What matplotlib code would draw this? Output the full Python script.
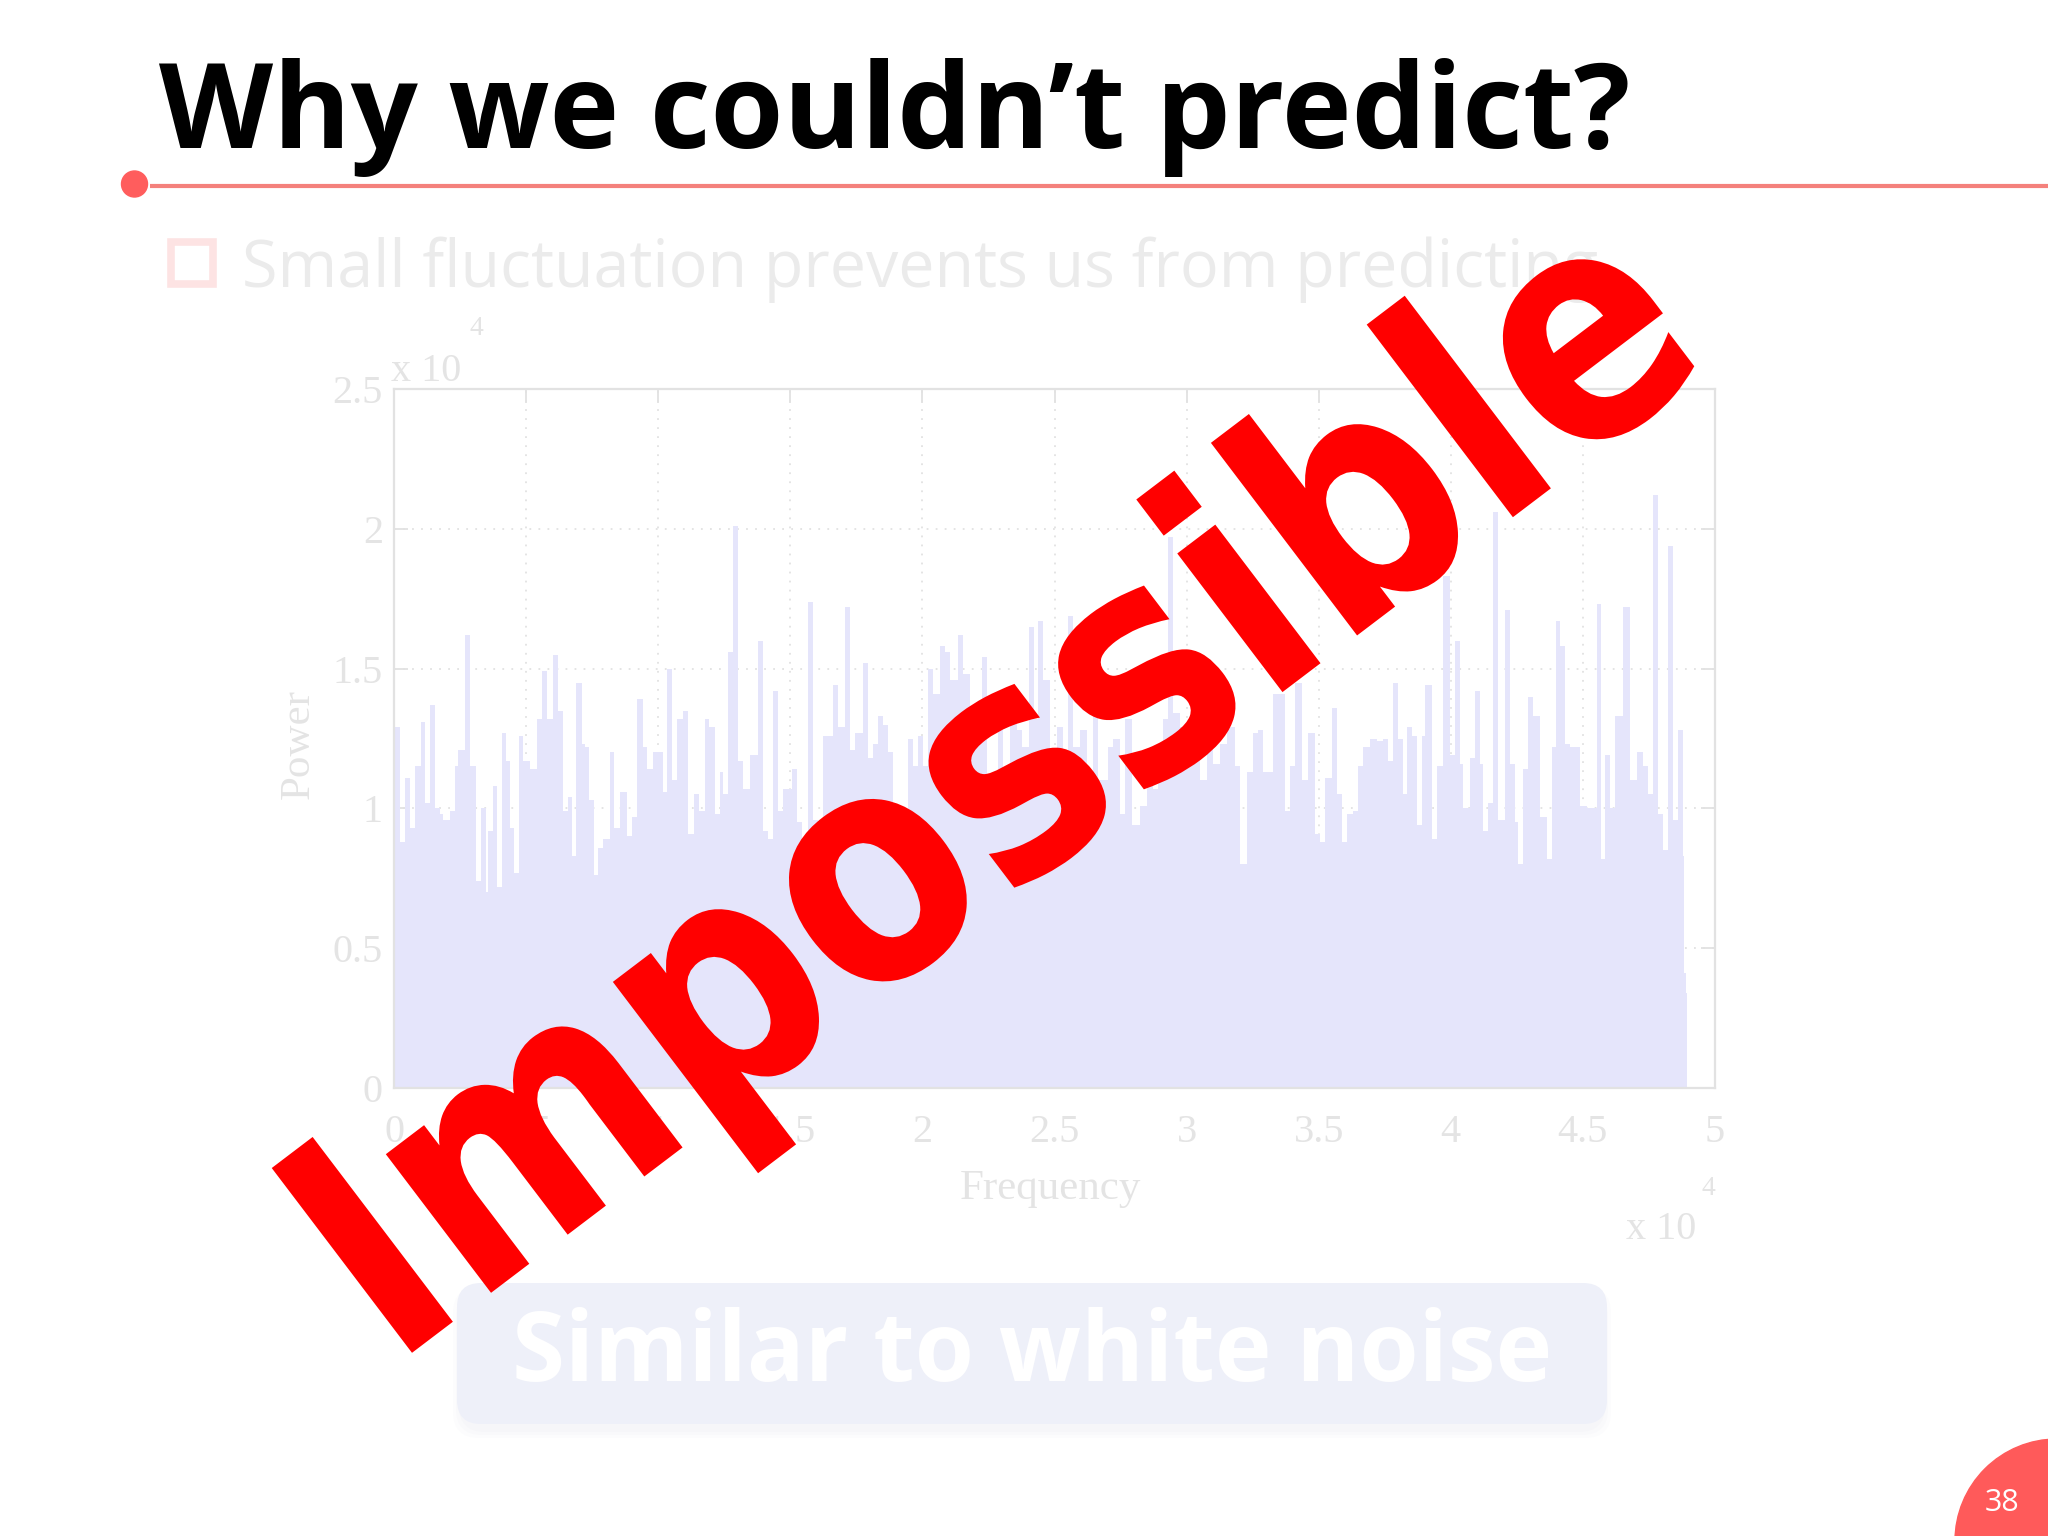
import matplotlib
matplotlib.use("Agg")
import matplotlib.pyplot as plt
import matplotlib.patches as patch
from matplotlib.textpath import TextPath
from matplotlib.font_manager import FontProperties
from matplotlib.transforms import Affine2D
from matplotlib.ticker import FuncFormatter

# power spectrum, both axes in units of 10^4
freq = [0.000, 0.023, 0.042, 0.061, 0.079, 0.101, 0.117, 0.136, 0.155, 0.174,
        0.187, 0.212, 0.231, 0.243, 0.269, 0.288, 0.310, 0.328, 0.347, 0.357,
        0.373, 0.389, 0.408, 0.424, 0.439, 0.454, 0.474, 0.490, 0.515, 0.540,
        0.559, 0.578, 0.603, 0.622, 0.641, 0.660, 0.672, 0.689, 0.710, 0.723,
        0.739, 0.757, 0.773, 0.792, 0.818, 0.833, 0.855, 0.881, 0.900, 0.921,
        0.944, 0.956, 0.981, 1.017, 1.032, 1.051, 1.070, 1.093, 1.114, 1.136,
        1.156, 1.177, 1.193, 1.215, 1.234, 1.247, 1.265, 1.284, 1.303, 1.322,
        1.347, 1.379, 1.398, 1.417, 1.436, 1.455, 1.474, 1.505, 1.524, 1.543,
        1.568, 1.587, 1.606, 1.623,
        1.660, 1.682, 1.707, 1.726, 1.745, 1.776, 1.795, 1.814, 1.833, 1.852,
        1.871, 1.890, 1.909, 1.928, 1.947, 1.966, 1.985, 2.004, 2.022, 2.041,
        2.067, 2.086, 2.104, 2.136, 2.155, 2.180, 2.205, 2.224, 2.243, 2.268,
        2.287, 2.306, 2.332, 2.357, 2.376, 2.405, 2.422, 2.439, 2.458, 2.483,
        2.508, 2.533, 2.552, 2.571, 2.597, 2.622, 2.647, 2.666, 2.704, 2.723,
        2.748, 2.767, 2.792, 2.824, 2.849, 2.874, 2.893, 2.912, 2.931, 2.950,
        2.975, 3.000, 3.025, 3.051, 3.076, 3.101, 3.126, 3.152, 3.183, 3.202,
        3.227, 3.252, 3.271, 3.290,
        3.328, 3.372, 3.391, 3.410, 3.436, 3.461, 3.486, 3.505, 3.524, 3.549,
        3.568, 3.587, 3.606, 3.631, 3.650, 3.669, 3.694, 3.720, 3.745, 3.763,
        3.782, 3.801, 3.820, 3.833, 3.852, 3.871, 3.890, 3.902, 3.928, 3.947,
        3.972, 3.997, 4.016, 4.035, 4.047, 4.073, 4.092, 4.111, 4.123, 4.142,
        4.161, 4.180, 4.205, 4.224, 4.243, 4.256, 4.275, 4.293, 4.312, 4.338,
        4.363, 4.382, 4.398, 4.413, 4.432, 4.451, 4.470, 4.489, 4.514, 4.533,
        4.552, 4.569, 4.584, 4.603, 4.621, 4.653, 4.678, 4.703, 4.729, 4.748,
        4.767, 4.786, 4.804, 4.823, 4.842, 4.861, 4.880, 4.884, 4.890, 4.895]
power = [1.29, 0.88, 1.11, 0.93, 1.15, 1.31, 1.02, 1.37, 1.00, 0.98,
         0.96, 0.99, 1.15, 1.21, 1.62, 1.15, 0.74, 1.00, 0.70, 0.92,
         1.08, 0.72, 1.27, 1.17, 0.93, 0.77, 1.26, 1.17, 1.14, 1.32,
         1.49, 1.32, 1.55, 1.35, 0.99, 1.04, 0.83, 1.45, 1.23, 1.22,
         1.03, 0.76, 0.86, 0.89, 1.20, 0.93, 1.06, 0.90, 0.97, 1.39,
         1.22, 1.14, 1.20, 1.06, 1.50, 1.10, 1.32, 1.35, 0.91, 1.05,
         0.99, 1.32, 1.29, 0.98, 1.13, 1.05, 1.56, 2.01, 1.17, 1.07,
         1.19, 1.60, 0.92, 0.89, 1.42, 0.99, 1.07, 1.14, 0.95, 0.84,
         1.74, 0.96, 0.88, 1.26,
         1.44, 1.29, 1.72, 1.21, 1.27, 1.52, 1.18, 1.23, 1.33, 1.30,
         1.20, 0.99, 0.92, 0.98, 1.25, 1.15, 1.26, 1.15, 1.50, 1.41,
         1.58, 1.56, 1.46, 1.62, 1.48, 1.34, 1.34, 1.54, 1.10, 1.01,
         1.42, 1.01, 1.34, 1.28, 1.22, 1.65, 1.32, 1.67, 1.46, 1.07,
         1.29, 1.10, 1.69, 1.22, 1.28, 1.10, 1.36, 1.10, 1.22, 1.25,
         0.98, 1.32, 0.94, 1.01, 1.10, 1.07, 1.16, 1.32, 1.97, 1.34,
         1.29, 1.29, 1.20, 1.10, 1.25, 1.16, 1.23, 1.29, 1.15, 0.80,
         1.13, 1.27, 1.28, 1.13,
         1.41, 0.99, 1.15, 1.45, 1.10, 1.27, 0.91, 0.88, 1.11, 1.36,
         1.05, 0.88, 0.98, 0.99, 1.15, 1.22, 1.25, 1.24, 1.25, 1.17,
         1.45, 1.25, 1.05, 1.29, 1.26, 0.94, 1.26, 1.44, 0.89, 1.15,
         1.83, 1.19, 1.60, 1.16, 1.00, 1.18, 1.42, 1.16, 0.92, 1.02,
         2.06, 0.96, 1.71, 1.16, 0.95, 0.80, 1.14, 1.40, 1.33, 0.97,
         0.82, 1.22, 1.67, 1.58, 1.23, 1.22, 1.22, 1.01, 1.00, 1.00,
         1.73, 0.82, 1.19, 1.00, 1.33, 1.72, 1.10, 1.20, 1.15, 1.05,
         2.12, 0.98, 0.85, 1.94, 0.96, 1.28, 0.83, 0.41, 0.34, 0.34]

x_ticks = [0, 0.5, 1, 1.5, 2, 2.5, 3, 3.5, 4, 4.5, 5]
y_ticks = [0, 0.5, 1, 1.5, 2, 2.5]

title = "Why we couldn\u2019t predict?"
bullet = "Small fluctuation prevents us from predicting"
stamp = "Impossible"
callout = "Similar to white noise"
page = "38"

faint = '#e4e4e4'
plt.rcParams['font.family'] = ['Liberation Serif', 'DejaVu Serif']

W, H = 2048, 1536
fig = plt.figure(figsize=(20.48, 15.36), dpi=100)

# slide background layer, pixel coordinates (y down)
back = fig.add_axes([0, 0, 1, 1], zorder=0)
back.set_xlim(0, W)
back.set_ylim(H, 0)
back.axis('off')

back.text(159, 148, title, fontsize=85, fontweight='bold', family='Open Sans',
          color='black', ha='left', va='baseline')
back.plot([150, W], [185.5, 185.5], color='#f4817c', lw=3, solid_capstyle='butt')
back.add_patch(patch.Circle((134.5, 184), 13, color='#ff5d5d'))

back.add_patch(patch.Rectangle((171, 242), 42, 42, fill=False,
                               edgecolor='#fde3e3', lw=5.5))
back.text(242, 287, bullet, fontsize=46.5, color='#ebebeb', family='Open Sans',
          ha='left', va='baseline')

# callout box with a soft shadow
for k in range(3):
    back.add_patch(patch.FancyBboxPatch((459 - 3 * k, 1287 - 3 * k + 6), 1146 + 6 * k, 139 + 6 * k,
                                        boxstyle='round,pad=0,rounding_size=26',
                                        facecolor='#c8cce0', edgecolor='none', alpha=0.05))
back.add_patch(patch.FancyBboxPatch((457, 1283), 1150, 141,
                                    boxstyle='round,pad=0,rounding_size=24',
                                    facecolor='#eef0f9', edgecolor='none'))
back.text(1032, 1356, callout, fontsize=69, fontweight='bold', color='white',
          family='Open Sans', ha='center', va='center')

back.add_patch(patch.Circle((2057, 1541), 102, color='#ff5a5a'))
back.text(2002, 1503, page, fontsize=22, color='white', family='Open Sans',
          ha='center', va='center')

# the faded spectrum
ax = fig.add_axes([0.1924, 0.2917, 0.645, 0.455], zorder=1)
ax.fill_between(freq, power, step='post', color='#e5e5fb', lw=0)
ax.set_xlim(0, 5)
ax.set_ylim(0, 2.5)
ax.set_xticks(x_ticks)
ax.set_yticks(y_ticks)
fmt = FuncFormatter(lambda v, p: '%g' % v)
ax.xaxis.set_major_formatter(fmt)
ax.yaxis.set_major_formatter(fmt)
ax.set_axisbelow(True)
ax.grid(True, linestyle=(0, (1, 4)), color='#e2e2e2', lw=1.3)
for s in ax.spines.values():
    s.set_color('#e2e2e2')
    s.set_linewidth(1.6)
ax.tick_params(direction='in', length=10, width=1.3, color='#e2e2e2',
               top=True, right=True, labelsize=29, labelcolor=faint)
ax.tick_params(axis='x', pad=19)
ax.tick_params(axis='y', pad=8)
ax.set_xlabel('Frequency', fontsize=31, color=faint)
ax.xaxis.set_label_coords(0.497, -0.116)
ax.set_ylabel('Power', fontsize=31, color=faint)
ax.yaxis.set_label_coords(-0.058, 0.492)
ax.text(-0.002, 1.0114, 'x 10', transform=ax.transAxes, fontsize=29, color=faint,
        ha='left', va='baseline')
ax.text(0.057, 1.077, '4', transform=ax.transAxes, fontsize=20, color=faint,
        ha='left', va='baseline')
ax.text(0.933, -0.216, 'x 10', transform=ax.transAxes, fontsize=29, color=faint,
        ha='left', va='baseline')
ax.text(0.990, -0.153, '4', transform=ax.transAxes, fontsize=20, color=faint,
        ha='left', va='baseline')

# red stamp across everything
front = fig.add_axes([0, 0, 1, 1], zorder=5)
front.set_xlim(0, W)
front.set_ylim(H, 0)
front.axis('off')
front.patch.set_alpha(0)

fp = FontProperties(family='DejaVu Sans', weight='bold')
tp = TextPath((0, 0), stamp, size=100, prop=fp)
cap = TextPath((0, 0), 'I', size=100, prop=fp).vertices[:, 1].max()
xmin = tp.vertices[:, 0].min()
xmax = tp.vertices[:, 0].max()
sx = 1650 / (xmax - xmin)
sy = 232 / cap
tr = Affine2D().translate(-xmin, 0).scale(sx, -sy).rotate_deg(-37.2).translate(392, 1368)
front.add_patch(patch.PathPatch(tp, transform=tr + front.transData,
                                facecolor='#ff0000', edgecolor='none'))

fig.savefig('out.png', dpi=100)
